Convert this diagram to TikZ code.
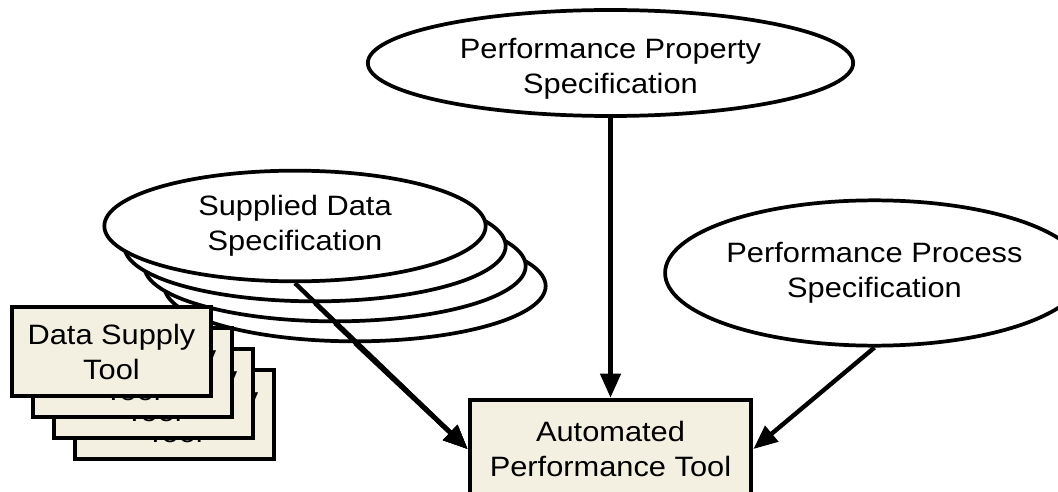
\documentclass[tikz,border=0pt]{standalone}
\usepackage{fontspec}
\setmainfont{Liberation Sans}[FakeStretch=1.1]
\usetikzlibrary{shapes.geometric,arrows.meta}
\definecolor{toolfill}{RGB}{243,240,226}
\begin{document}
\begin{tikzpicture}[x=0.75pt,y=-0.75pt,
  txt/.style={font=\fontsize{21}{26.25}\selectfont, align=center},
  spec/.style={ellipse, draw, line width=2.8pt, fill=white, inner sep=0pt, txt},
  toolbox/.style={rectangle, draw, line width=3.4pt, fill=toolfill, inner sep=0pt, txt},
  flow/.style={line width=3.3pt, -{Triangle[length=18pt,width=15pt]}}]
\useasboundingbox (0,0) rectangle (1058,492);
\clip (0,0) rectangle (1058,492);

% Performance property specification
\node[spec, minimum width=364pt, minimum height=79.5pt,
  label={[txt, yshift=-4.5pt]center:{Performance Property\\Specification}}] (pps) at (610.5,63) {};

% Performance process specification
\node[spec, minimum width=270pt, minimum height=109pt] (prs) at (874.5,273) {Performance Process\\Specification};

% Supplied data specification stack
\foreach \k in {3,2,1,0}{
  \node[spec, minimum width=286pt, minimum height=83pt] (sd\k) at ({295+20*\k},{226+20*\k}) {Supplied Data\\Specification};
}

% Data supply tool stack
\foreach \k in {3,2,1,0}{
  \node[toolbox, minimum width=149pt, minimum height=67pt] (dst\k) at ({111.5+21*\k},{351.5+21*\k}) {Data Supply\\Tool};
}

% Automated performance tool
\node[toolbox, minimum width=211pt, minimum height=73.5pt] (apt) at (610.5,449) {Automated\\Performance Tool};

% connectors
\draw[flow] (pps.south) -- (apt.north);
\draw[flow] (prs.south) -- (apt.east);
\foreach \k in {3,2,1,0}{
  \draw[flow] (sd\k.south) -- (apt.west);
}
\end{tikzpicture}
\end{document}
